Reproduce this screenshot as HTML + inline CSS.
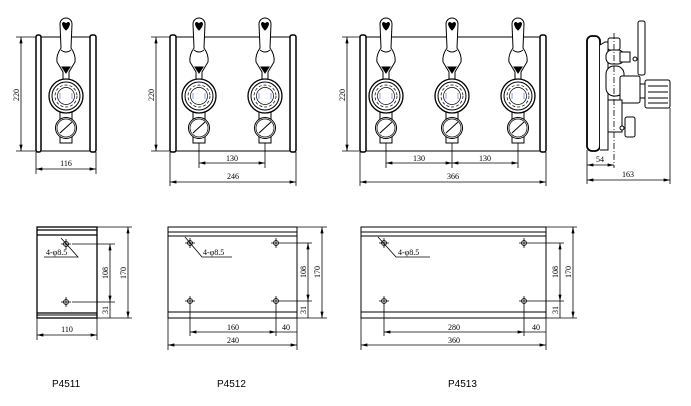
<!DOCTYPE html>
<html><head><style>
html,body{margin:0;padding:0;background:#fff;}
svg{display:block;}
text{font-family:"Liberation Serif",serif;font-size:8px;fill:#000;}
.lb{font-family:"Liberation Sans",sans-serif;font-size:10px;}
</style></head><body>
<svg width="691" height="406" viewBox="0 0 691 406" xmlns="http://www.w3.org/2000/svg">
<defs>
<marker id="a" viewBox="0 0 8 4" refX="8" refY="2" markerWidth="8" markerHeight="4" orient="auto-start-reverse"><path d="M0,0 L8,2 L0,4 z" fill="#000"/></marker>
<g id="m" stroke="#000" stroke-width="1" fill="#fff">
  <rect x="-6" y="112" width="12" height="31"/>
  <path d="M-6,24 A6,6 0 0 1 6,24 L5,48 Q10,55 9,62 L3,72 L3,79 L-3,79 L-3,72 L-9,62 Q-10,55 -5,48 Z"/>
  <path d="M0,24 Q-3,21 -3.5,24 Q-3,27 0,30 Q3,27 3.5,24 Q3,21 0,24 Z" fill="#000"/>
  <path d="M-4,67 L4,67 L0,73 Z" fill="#000"/>
  <path d="M-5,50 Q0,54 5,50" fill="none"/>
  <circle cx="0" cy="96" r="17" stroke-width="1.3"/>
  <circle cx="0" cy="96" r="14"/>
  <circle cx="0" cy="96" r="11" stroke-width="0.7" stroke-dasharray="3,2"/>
  <circle cx="0" cy="96" r="8.5" stroke-width="0.7"/>
  <path d="M-6,93 v6 M6,93 v6" stroke="#36c" stroke-width="0.6"/>
  <circle cx="0" cy="128" r="10.5"/>
  <circle cx="0" cy="128" r="9" stroke-width="0.7"/>
  <line x1="-6" y1="133" x2="6" y2="122" stroke-width="1"/>
</g>
</defs>
<g stroke="#000" stroke-width="1" fill="none">
<line x1="41" y1="37" x2="90" y2="37"/><line x1="41" y1="151" x2="90" y2="151"/>
<rect x="36" y="35" width="5" height="117" rx="2" stroke-width="1.5"/>
<rect x="90" y="35" width="6" height="117" rx="2" stroke-width="1.5"/>
<line x1="176" y1="37" x2="290" y2="37"/><line x1="176" y1="151" x2="290" y2="151"/>
<rect x="170" y="35" width="6" height="117" rx="2" stroke-width="1.5"/>
<rect x="290" y="35" width="6" height="117" rx="2" stroke-width="1.5"/>
<line x1="366" y1="37" x2="540" y2="37"/><line x1="366" y1="151" x2="540" y2="151"/>
<rect x="360" y="35" width="6" height="117" rx="2" stroke-width="1.5"/>
<rect x="540" y="35" width="6" height="117" rx="2" stroke-width="1.5"/>
</g>
<use href="#m" x="66"/>
<use href="#m" x="199"/><use href="#m" x="265"/>
<use href="#m" x="386"/><use href="#m" x="452"/><use href="#m" x="518"/>
<g stroke="#000" stroke-width="0.8" fill="none">
<line x1="16" y1="37" x2="36" y2="37"/><line x1="16" y1="151" x2="36" y2="151"/>
<line x1="21" y1="37" x2="21" y2="151" marker-start="url(#a)" marker-end="url(#a)"/>
<line x1="36" y1="152" x2="36" y2="174"/><line x1="96" y1="152" x2="96" y2="174"/>
<line x1="36" y1="169" x2="96" y2="169" marker-start="url(#a)" marker-end="url(#a)"/>
<line x1="151" y1="37" x2="170" y2="37"/><line x1="151" y1="151" x2="170" y2="151"/>
<line x1="156" y1="37" x2="156" y2="151" marker-start="url(#a)" marker-end="url(#a)"/>
<line x1="199" y1="143" x2="199" y2="168"/><line x1="265" y1="143" x2="265" y2="168"/>
<line x1="199" y1="163" x2="265" y2="163" marker-start="url(#a)" marker-end="url(#a)"/>
<line x1="170" y1="152" x2="170" y2="186"/><line x1="296" y1="152" x2="296" y2="186"/>
<line x1="170" y1="182" x2="296" y2="182" marker-start="url(#a)" marker-end="url(#a)"/>
<line x1="342" y1="37" x2="360" y2="37"/><line x1="342" y1="151" x2="360" y2="151"/>
<line x1="347" y1="37" x2="347" y2="151" marker-start="url(#a)" marker-end="url(#a)"/>
<line x1="386" y1="143" x2="386" y2="168"/><line x1="452" y1="143" x2="452" y2="168"/><line x1="518" y1="143" x2="518" y2="168"/>
<line x1="386" y1="163" x2="452" y2="163" marker-start="url(#a)" marker-end="url(#a)"/>
<line x1="452" y1="163" x2="518" y2="163" marker-start="url(#a)" marker-end="url(#a)"/>
<line x1="360" y1="152" x2="360" y2="186"/><line x1="546" y1="152" x2="546" y2="186"/>
<line x1="360" y1="182" x2="546" y2="182" marker-start="url(#a)" marker-end="url(#a)"/>
</g>
<g fill="#fff" stroke="#000" stroke-width="1">
<rect x="587" y="36" width="13" height="115" rx="5" stroke-width="1.8"/>
<path d="M600,45 L605,42 L608,42 L608,150 L600,150"/>
<rect x="608" y="38" width="12" height="12" rx="2"/>
<rect x="606" y="50" width="18" height="14" rx="6"/>
<rect x="620" y="52" width="10" height="10"/>
<rect x="638" y="21" width="7" height="54" rx="2"/>
<circle cx="635" cy="59" r="2"/>
<rect x="606" y="66" width="18" height="30" rx="8"/>
<rect x="620" y="76" width="20" height="27" rx="2"/>
<rect x="640" y="84" width="6" height="14"/>
<rect x="645" y="80" width="25" height="28" rx="2"/>
<path d="M648,86 h20 M648,92 h20 M648,98 h20 M648,103 h20" fill="none"/>
<rect x="608" y="100" width="14" height="32"/>
<rect x="625" y="117" width="10" height="20" rx="2"/>
<circle cx="622" cy="128" r="2"/>
</g>
<g stroke="#000" stroke-width="0.8" fill="none">
<line x1="614" y1="33" x2="614" y2="168" stroke-dasharray="6,2,1,2"/>
<line x1="587" y1="150" x2="587" y2="184"/><line x1="670" y1="108" x2="670" y2="184"/>
<line x1="587" y1="165" x2="614" y2="165" marker-start="url(#a)" marker-end="url(#a)"/>
<line x1="587" y1="180" x2="670" y2="180" marker-start="url(#a)" marker-end="url(#a)"/>
</g>
<g stroke="#000" stroke-width="1" fill="none">
<rect x="37" y="227" width="60" height="91" stroke-width="1.3"/>
<line x1="37" y1="230" x2="97" y2="230" stroke-width="1.3"/><line x1="37" y1="235" x2="97" y2="235" stroke-width="1.3"/>
<line x1="37" y1="313" x2="97" y2="313" stroke-width="1.3"/><line x1="37" y1="315" x2="97" y2="315"/>
<rect x="168" y="227" width="129" height="91"/>
<line x1="168" y1="232" x2="297" y2="232"/><line x1="168" y1="236" x2="297" y2="236"/>
<line x1="168" y1="312" x2="297" y2="312"/>
<rect x="361" y="227" width="185" height="91"/>
<line x1="361" y1="232" x2="546" y2="232"/><line x1="361" y1="236" x2="546" y2="236"/>
<line x1="361" y1="312" x2="546" y2="312"/>
</g>
<g stroke="#000" stroke-width="0.8" fill="none">
<circle cx="66" cy="244" r="2.5"/><path d="M61,244 h10 M66,239 v10"/>
<circle cx="66" cy="302" r="2.5"/><path d="M61,302 h10 M66,297 v10"/>
<circle cx="190" cy="243" r="2.5"/><path d="M185,243 h10 M190,238 v10"/>
<circle cx="276" cy="243" r="2.5"/><path d="M271,243 h10 M276,238 v10"/>
<circle cx="190" cy="301" r="2.5"/><path d="M185,301 h10 M190,296 v10"/>
<circle cx="276" cy="301" r="2.5"/><path d="M271,301 h10 M276,296 v10"/>
<circle cx="384" cy="243" r="2.5"/><path d="M379,243 h10 M384,238 v10"/>
<circle cx="524" cy="243" r="2.5"/><path d="M519,243 h10 M524,238 v10"/>
<circle cx="384" cy="301" r="2.5"/><path d="M379,301 h10 M384,296 v10"/>
<circle cx="524" cy="301" r="2.5"/><path d="M519,301 h10 M524,296 v10"/>
<path d="M61,238 L78,257 L44,257"/>
<path d="M185,237 L202,257 L232,257"/>
<path d="M378,237 L396,257 L430,257"/>
<line x1="97" y1="227" x2="132" y2="227"/><line x1="97" y1="318" x2="132" y2="318"/>
<line x1="128" y1="227" x2="128" y2="318" marker-start="url(#a)" marker-end="url(#a)"/>
<line x1="72" y1="244" x2="115" y2="244"/><line x1="72" y1="302" x2="115" y2="302"/>
<line x1="110" y1="244" x2="110" y2="302" marker-start="url(#a)" marker-end="url(#a)"/>
<line x1="110" y1="302" x2="110" y2="318"/>
<line x1="37" y1="318" x2="37" y2="340"/><line x1="97" y1="318" x2="97" y2="340"/>
<line x1="37" y1="335" x2="97" y2="335" marker-start="url(#a)" marker-end="url(#a)"/>
<line x1="297" y1="227" x2="327" y2="227"/><line x1="297" y1="318" x2="327" y2="318"/>
<line x1="322" y1="227" x2="322" y2="318" marker-start="url(#a)" marker-end="url(#a)"/>
<line x1="281" y1="243" x2="312" y2="243"/><line x1="281" y1="301" x2="312" y2="301"/>
<line x1="308" y1="243" x2="308" y2="301" marker-start="url(#a)" marker-end="url(#a)"/>
<line x1="308" y1="301" x2="308" y2="318"/>
<line x1="190" y1="306" x2="190" y2="336"/><line x1="276" y1="306" x2="276" y2="336"/>
<line x1="190" y1="332" x2="276" y2="332" marker-start="url(#a)" marker-end="url(#a)"/>
<line x1="276" y1="332" x2="297" y2="332"/>
<line x1="168" y1="318" x2="168" y2="350"/><line x1="297" y1="318" x2="297" y2="350"/>
<line x1="168" y1="345" x2="297" y2="345" marker-start="url(#a)" marker-end="url(#a)"/>
<line x1="546" y1="227" x2="577" y2="227"/><line x1="546" y1="318" x2="577" y2="318"/>
<line x1="573" y1="227" x2="573" y2="318" marker-start="url(#a)" marker-end="url(#a)"/>
<line x1="529" y1="243" x2="564" y2="243"/><line x1="529" y1="301" x2="564" y2="301"/>
<line x1="560" y1="243" x2="560" y2="301" marker-start="url(#a)" marker-end="url(#a)"/>
<line x1="560" y1="301" x2="560" y2="318"/>
<line x1="384" y1="306" x2="384" y2="336"/><line x1="524" y1="306" x2="524" y2="336"/>
<line x1="384" y1="332" x2="524" y2="332" marker-start="url(#a)" marker-end="url(#a)"/>
<line x1="524" y1="332" x2="546" y2="332"/>
<line x1="361" y1="318" x2="361" y2="350"/><line x1="546" y1="318" x2="546" y2="350"/>
<line x1="361" y1="345" x2="546" y2="345" marker-start="url(#a)" marker-end="url(#a)"/>
</g>
<text x="19" y="95" transform="rotate(-90 19 95)" text-anchor="middle">220</text>
<text x="154" y="95" transform="rotate(-90 154 95)" text-anchor="middle">220</text>
<text x="345" y="95" transform="rotate(-90 345 95)" text-anchor="middle">220</text>
<text x="66" y="166" text-anchor="middle">116</text>
<text x="232" y="161" text-anchor="middle">130</text>
<text x="233" y="179" text-anchor="middle">246</text>
<text x="419" y="161" text-anchor="middle">130</text>
<text x="485" y="161" text-anchor="middle">130</text>
<text x="453" y="179" text-anchor="middle">366</text>
<text x="600" y="162" text-anchor="middle">54</text>
<text x="628" y="177" text-anchor="middle">163</text>
<text x="46" y="255">4-φ8.5</text>
<text x="203" y="255">4-φ8.5</text>
<text x="398" y="255">4-φ8.5</text>
<text x="108" y="273" transform="rotate(-90 108 273)" text-anchor="middle">108</text>
<text x="126" y="273" transform="rotate(-90 126 273)" text-anchor="middle">170</text>
<text x="108" y="310" transform="rotate(-90 108 310)" text-anchor="middle">31</text>
<text x="67" y="332" text-anchor="middle">110</text>
<text x="306" y="272" transform="rotate(-90 306 272)" text-anchor="middle">108</text>
<text x="320" y="272" transform="rotate(-90 320 272)" text-anchor="middle">170</text>
<text x="306" y="310" transform="rotate(-90 306 310)" text-anchor="middle">31</text>
<text x="233" y="330" text-anchor="middle">160</text>
<text x="286" y="330" text-anchor="middle">40</text>
<text x="233" y="343" text-anchor="middle">240</text>
<text x="558" y="272" transform="rotate(-90 558 272)" text-anchor="middle">108</text>
<text x="571" y="272" transform="rotate(-90 571 272)" text-anchor="middle">170</text>
<text x="558" y="310" transform="rotate(-90 558 310)" text-anchor="middle">31</text>
<text x="454" y="330" text-anchor="middle">280</text>
<text x="536" y="330" text-anchor="middle">40</text>
<text x="454" y="343" text-anchor="middle">360</text>
<text class="lb" x="52" y="387">P4511</text>
<text class="lb" x="217" y="387">P4512</text>
<text class="lb" x="448" y="387">P4513</text>
</svg>
</body></html>
